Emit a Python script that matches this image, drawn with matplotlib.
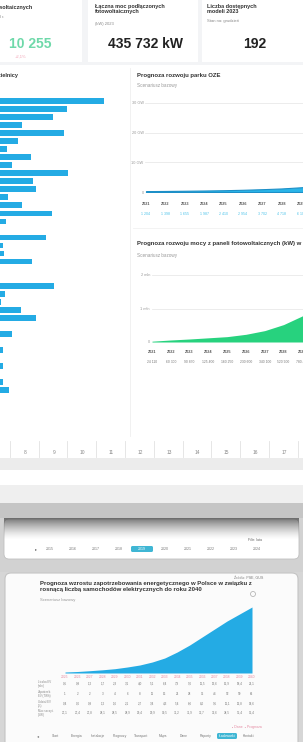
import matplotlib.pyplot as plt
import matplotlib.patches as mpatches
from matplotlib.transforms import blended_transform_factory
import numpy as np

W, H = 303, 742
plt.rcParams['font.family'] = ['Liberation Sans', 'DejaVu Sans']

# ---- data ----
kpi_titles = ["Liczba instalacji fotowoltaicznych", "Łączna moc podłączonych\nfotowoltaicznych", "Liczba dostępnych\nmodeli 2023"]
kpi_notes = ["", "(kW) 2023", "Stan na: grudzień"]
kpi_values = ["10 255", "435 732 kW", "192"]
kpi_colors = ["#6fd9aa", "#222222", "#222222"]

district_counts = [104, 67, 53, 22, 64, 18, 7, 31, 12, 68, 33, 36, 8, 22, 52, 6, 0, 46,
                   3, 4, 32, 0, 0, 54, 5, 1, 21, 36, 0, 12, 0, 3, 0, 3, 0, 3, 9]

hours = list(range(7, 18))

oze_years = list(range(2021, 2031))
oze_capacity = [0.3, 0.35, 0.42, 0.5, 0.6, 0.75, 0.95, 1.2, 1.6, 2.1]
oze_ticks = [0, 10, 20, 30]
oze_ticklabels = ["0", "10 GW", "20 GW", "30 GW"]
oze_table = ["1 204", "1 398", "1 655", "1 987", "2 410", "2 954", "3 702", "4 718", "6 102", "8 015"]

pv_years = list(range(2021, 2031))
pv_power = [0.024, 0.06, 0.09, 0.125, 0.16, 0.23, 0.34, 0.52, 0.78, 1.07]
pv_ticks = [0, 1, 2]
pv_ticklabels = ["0", "1 mln", "2 mln"]
pv_table = ["24 110", "60 300", "90 870", "125 400", "160 250", "230 600", "340 100", "520 900", "780 400", "1 070 000"]

demand_years = list(range(2025, 2041))
demand_twh = [1, 1.5, 2.3, 3.2, 4.3, 6, 8, 11, 15, 21, 28, 36, 44, 52, 59, 66]
ev_count = ["0,5", "0,8", "1,2", "1,7", "2,3", "3,1", "4,0", "5,1", "6,4", "7,9", "9,6", "11,5", "13,6", "15,9", "18,4", "21,1"]
ev_share = ["0,4", "0,6", "0,9", "1,2", "1,6", "2,1", "2,7", "3,4", "4,3", "5,4", "6,6", "8,0", "9,5", "11,1", "12,8", "14,6"]
peak_gw = ["27,1", "27,4", "27,8", "28,1", "28,5", "28,9", "29,4", "29,9", "30,5", "31,2", "31,9", "32,7", "33,6", "34,5", "35,4", "36,4"]
row_names = ["Liczba EV\n(mln)", "Zapotrzeb.\nEV (TWh)", "Udział EV\n(%)", "Moc szczyt.\n(GW)"]

menu_items = ["Start", "Energia", "Instalacje", "Prognozy", "Transport", "Mapa", "Dane", "Raporty", "Ładowarki", "Kontakt"]
timeline_items = ["2015", "2016", "2017", "2018", "2019", "2020", "2021", "2022", "2023", "2024"]

BLUE = "#24abe4"
GREEN = "#27d27e"

fig = plt.figure(figsize=(W / 100, H / 100), dpi=100)
fig.patch.set_facecolor("#f3f4f6")


def pax(x, y, w, h):
    # axes placed in screenshot pixel coordinates
    return fig.add_axes([x / W, 1 - (y + h) / H, w / W, h / H])


bg = pax(0, 0, W, H)
bg.set_xlim(0, W)
bg.set_ylim(H, 0)
bg.axis("off")
bg.set_zorder(-10)


def box(x, y, w, h, color, **kw):
    bg.add_patch(mpatches.Rectangle((x, y), w, h, facecolor=color, edgecolor="none", **kw))


# page blocks
for x, w in [(0, 82), (88, 110), (202, 101)]:
    box(x, 0, w, 62, "white")
box(0, 65, W, 393, "white")
box(0, 458, W, 12, "#ececec")
box(0, 470, W, 15, "white")
box(0, 485, W, 18, "#efefef")
box(0, 503, W, 15, "#c5c5c5")
box(0, 518, W, 54, "#d2d2d2")
box(0, 572, W, 170, "#d6d6d6")
bg.add_patch(mpatches.FancyBboxPatch((4, 519), 295, 40, boxstyle="round,pad=0,rounding_size=5",
                                     facecolor="white", edgecolor="#c0c0c0", lw=0.6))
grad = np.zeros((30, 1, 4))
grad[:, 0, :3] = 0.33
grad[:, 0, 3] = np.linspace(0.85, 0, 30) ** 1.4
bg.imshow(grad, extent=(4, 299, 540, 518), aspect="auto", origin="upper", zorder=2)
bg.add_patch(mpatches.FancyBboxPatch((5, 573), 293, 175, boxstyle="round,pad=0,rounding_size=6",
                                     facecolor="#fbfbfb", edgecolor="#c4c4c4", lw=0.8))
bg.plot([130, 130], [68, 436], color="#efefef", lw=0.6)
bg.plot([133, 303], [228, 228], color="#f1f1f1", lw=0.6)

# ---- KPI cards ----
bg.text(32, 5, kpi_titles[0], fontsize=4, weight="bold", color="#333", ha="right", va="top")
bg.text(4, 15, "2023 r.", fontsize=3, color="#888", ha="right", va="top")
bg.text(95, 4, kpi_titles[1], fontsize=4, weight="bold", color="#333", va="top", linespacing=1.1)
bg.text(95, 22, kpi_notes[1], fontsize=3, color="#888", va="top")
bg.text(207, 4, kpi_titles[2], fontsize=4, weight="bold", color="#333", va="top", linespacing=1.1)
bg.text(207, 19, kpi_notes[2], fontsize=3, color="#888", va="top")
for x, val, col in zip([30, 145, 255], kpi_values, kpi_colors):
    bg.text(x, 44, val, fontsize=10, weight="bold", color=col, ha="center", va="center")
bg.text(21, 57, "+2,1%", fontsize=3, color="#f2a3b6", ha="center", va="center")

# ---- district bar chart ----
bg.text(18, 75, "Liczba instalacji wg dzielnicy", fontsize=4, weight="bold", color="#333", ha="right", va="center")
axb = pax(0, 97, 125, 297)
axb.barh(range(len(district_counts)), district_counts, height=0.72, color=BLUE)
axb.set_xlim(0, 125)
axb.set_ylim(len(district_counts) - 0.5, -0.5)
axb.axis("off")

# hour header strip
axh = pax(0, 440, W, 18)
axh.set_xlim(8 - 25 / 28.8, 8 + 278 / 28.8)
axh.set_ylim(0, 1)
axh.axis("off")
for hr in hours:
    axh.text(hr, 0.3, str(hr), fontsize=3.5, color="#888", ha="center", va="center")
    axh.axvline(hr + 0.47, ymin=0.05, ymax=0.95, color="#e2e2e2", lw=0.6)

# ---- chart 1: OZE ----
bg.text(137, 75, "Prognoza rozwoju parku OZE", fontsize=4.3, weight="bold", color="#333", va="center")
bg.text(137, 86, "Scenariusz bazowy", fontsize=3.3, color="#999", va="center")
ax1 = pax(145, 103, 158, 89)
ax1.fill_between(oze_years, oze_capacity, color="#2ab5e8", lw=0.8, edgecolor="#1d8fc7")
ax1.set_xlim(2020.95, 2020.95 + 158 / 19.4)
ax1.set_ylim(0, 30)
ax1.set_yticks(oze_ticks, oze_ticklabels)
ax1.set_xticks([])
ax1.grid(axis="y", color="#e9e9e9", lw=0.6)
ax1.tick_params(axis="y", length=0, labelsize=2.8, labelcolor="#999", pad=1)
for s in ax1.spines.values():
    s.set_visible(False)
ax1.set_axisbelow(True)
t1 = blended_transform_factory(ax1.transData, bg.transData)
for yr, val in zip(oze_years, oze_table):
    ax1.text(yr, 204, str(yr), transform=t1, fontsize=2.8, weight="bold", color="#555", ha="center", va="center", clip_on=False)
    ax1.text(yr, 214, val, transform=t1, fontsize=2.6, color="#4cc3ea", ha="center", va="center", clip_on=False)

# ---- chart 2: PV power ----
bg.text(137, 244, "Prognoza rozwoju mocy z paneli fotowoltaicznych (kW) w Polsce", fontsize=4.3,
        weight="bold", color="#333", va="center")
bg.text(137, 256, "Scenariusz bazowy", fontsize=3.3, color="#999", va="center")
ax2 = pax(152, 275, 151, 67)
ax2.fill_between(pv_years, pv_power, color=GREEN, lw=0)
ax2.set_xlim(2021, 2021 + 151 / 18.8)
ax2.set_ylim(0, 2)
ax2.set_yticks(pv_ticks, pv_ticklabels)
ax2.set_xticks([])
ax2.grid(axis="y", color="#e9e9e9", lw=0.6)
ax2.tick_params(axis="y", length=0, labelsize=2.8, labelcolor="#999", pad=1.5)
for s in ax2.spines.values():
    s.set_visible(False)
ax2.set_axisbelow(True)
t2 = blended_transform_factory(ax2.transData, bg.transData)
for yr, val in zip(pv_years, pv_table):
    ax2.text(yr, 352, str(yr), transform=t2, fontsize=2.8, weight="bold", color="#555", ha="center", va="center", clip_on=False)
    ax2.text(yr, 362, val, transform=t2, fontsize=2.4, color="#777", ha="center", va="center", clip_on=False)

# ---- card with timeline ----
bg.text(262, 540, "Filtr: lata", fontsize=2.6, color="#666", ha="right", va="center")
bg.text(36, 549, "▸", fontsize=3, color="#666", ha="center", va="center")
for i, item in enumerate(timeline_items):
    x = 50 + i * 23
    if i == 4:
        bg.add_patch(mpatches.FancyBboxPatch((x - 11, 546), 22, 6, boxstyle="round,pad=0,rounding_size=1.5",
                                             facecolor="#3fb6d4", edgecolor="none"))
    bg.text(x, 549, item, fontsize=2.6, color="#777" if i != 4 else "white", ha="center", va="center")

# ---- bottom card: demand forecast ----
bg.text(40, 581, "Prognoza wzrostu zapotrzebowania energetycznego w Polsce w związku z\n"
        "rosnącą liczbą samochodów elektrycznych do roku 2040", fontsize=4.3, weight="bold",
        color="#333", va="top", linespacing=1.2)
bg.text(40, 600, "Scenariusz bazowy", fontsize=3, color="#999", va="center")
bg.text(263, 578, "Źródło: PSE, GUS", fontsize=2.6, color="#777", ha="right", va="center")
bg.add_patch(mpatches.Circle((253, 594), 2.5, facecolor="none", edgecolor="#aaa", lw=0.5))

ax3 = pax(65, 603, 187, 70)
ax3.fill_between(demand_years, demand_twh, color=BLUE, lw=0)
ax3.set_xlim(2025, 2040)
ax3.set_ylim(0, 70)
ax3.axis("off")
t3 = blended_transform_factory(ax3.transData, bg.transData)
rows = [ev_count, [f"{v:.0f}" for v in demand_twh], ev_share, peak_gw]
row_y = [684, 694, 704, 713]
for j, yr in enumerate(demand_years):
    ax3.text(yr, 677, str(yr), transform=t3, fontsize=2.4, color="#e58aa2", ha="center", va="center", clip_on=False)
    for vals, y in zip(rows, row_y):
        ax3.text(yr, y, vals[j], transform=t3, fontsize=2.2, color="#777", ha="center", va="center", clip_on=False)
for name, y in zip(row_names, row_y):
    bg.text(38, y, name, fontsize=2.1, color="#888", va="center", linespacing=1.0)

bg.text(262, 727, "▪ Dane  ▪ Prognoza", fontsize=2.5, color="#e58aa2", ha="right", va="center")
bg.text(38, 736, "◂", fontsize=3, color="#777", ha="center", va="center")
for i, item in enumerate(menu_items):
    x = 55 + i * 21.5
    if i == 8:
        bg.add_patch(mpatches.FancyBboxPatch((x - 10, 733), 20, 6, boxstyle="round,pad=0,rounding_size=1.5",
                                             facecolor="#3fb6d4", edgecolor="none"))
    bg.text(x, 736, item, fontsize=2.4, color="#777" if i != 8 else "white", ha="center", va="center")

fig.savefig("out.png", dpi=100, facecolor=fig.get_facecolor())
